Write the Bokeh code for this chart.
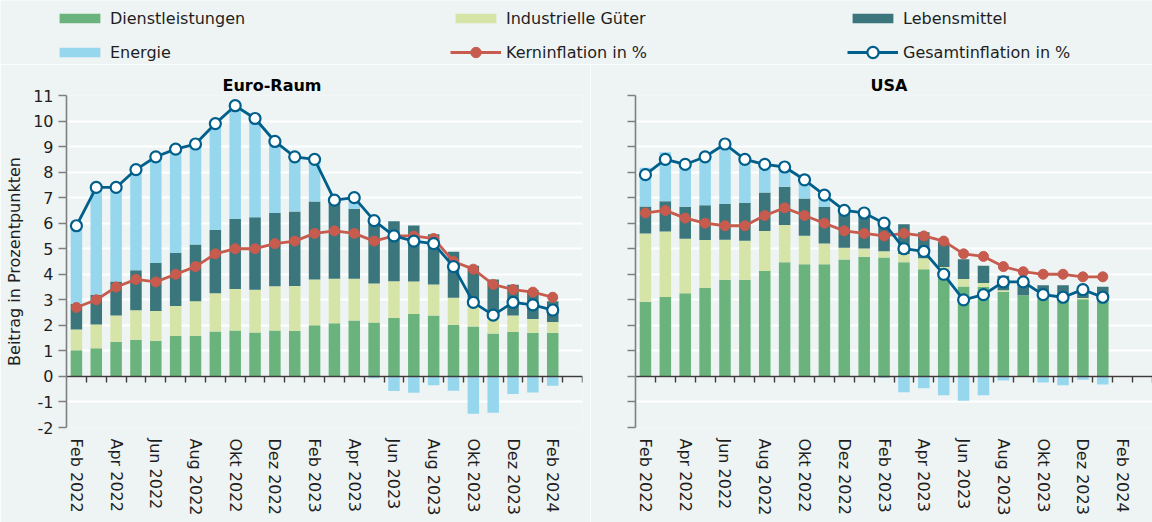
from bokeh.plotting import figure
from bokeh.models import (Range1d, FixedTicker, LinearAxis, Legend, LegendItem,
                          CustomJSTickFormatter, Title)
from bokeh.layouts import column, row
from bokeh.embed import file_html
from bokeh.resources import INLINE

# ---------------- data ----------------
months = ["Feb 2022", "Mär 2022", "Apr 2022", "Mai 2022", "Jun 2022", "Jul 2022",
          "Aug 2022", "Sep 2022", "Okt 2022", "Nov 2022", "Dez 2022", "Jan 2023",
          "Feb 2023", "Mär 2023", "Apr 2023", "Mai 2023", "Jun 2023", "Jul 2023",
          "Aug 2023", "Sep 2023", "Okt 2023", "Nov 2023", "Dez 2023", "Jan 2024",
          "Feb 2024"]

# Euro-Raum (Feb 2022 - Feb 2024)
ea_dienst = [1.02, 1.10, 1.36, 1.44, 1.40, 1.58, 1.59, 1.76, 1.80, 1.72, 1.80, 1.78,
             2.00, 2.08, 2.19, 2.11, 2.30, 2.44, 2.39, 2.02, 1.95, 1.68, 1.74, 1.71, 1.70]
ea_indust = [0.82, 0.93, 1.03, 1.15, 1.16, 1.18, 1.35, 1.50, 1.62, 1.67, 1.73, 1.76,
             1.80, 1.74, 1.63, 1.53, 1.43, 1.28, 1.21, 1.06, 0.82, 0.60, 0.65, 0.54, 0.43]
ea_lebens = [1.01, 1.17, 1.33, 1.57, 1.88, 2.07, 2.23, 2.47, 2.74, 2.84, 2.87, 2.92,
             3.05, 3.03, 2.75, 2.40, 2.35, 2.19, 1.97, 1.80, 1.56, 1.52, 1.20, 1.13, 0.81]
ea_energie = [3.00, 4.22, 3.73, 3.82, 4.16, 3.96, 3.90, 4.10, 4.39, 3.76, 2.75, 2.14,
              1.61, 0.05, 0.30, -0.07, -0.57, -0.64, -0.35, -0.56, -1.46, -1.42, -0.69,
              -0.63, -0.37]
ea_kern = [2.7, 3.0, 3.5, 3.8, 3.7, 4.0, 4.3, 4.8, 5.0, 5.0, 5.2, 5.3, 5.6, 5.7, 5.6,
           5.3, 5.5, 5.5, 5.4, 4.5, 4.2, 3.6, 3.4, 3.3, 3.1]
ea_gesamt = [5.9, 7.4, 7.4, 8.1, 8.6, 8.9, 9.1, 9.9, 10.6, 10.1, 9.2, 8.6, 8.5, 6.9,
             7.0, 6.1, 5.5, 5.3, 5.2, 4.3, 2.9, 2.4, 2.9, 2.8, 2.6]

# USA (Feb 2022 - Jan 2024)
us_dienst = [2.92, 3.11, 3.26, 3.47, 3.79, 3.79, 4.13, 4.47, 4.39, 4.39, 4.58, 4.69,
             4.66, 4.47, 4.20, 3.94, 3.52, 3.50, 3.31, 3.18, 3.14, 3.18, 3.02, 3.13]
us_indust = [2.68, 2.56, 2.13, 1.87, 1.56, 1.52, 1.56, 1.46, 1.12, 0.81, 0.46, 0.32,
             0.24, 0.32, 0.43, 0.34, 0.29, 0.16, 0.06, 0.00, 0.00, 0.00, 0.05, 0.00]
us_lebens = [1.05, 1.19, 1.25, 1.36, 1.41, 1.48, 1.51, 1.50, 1.46, 1.43, 1.44, 1.43,
             1.16, 1.17, 1.02, 0.98, 0.78, 0.67, 0.57, 0.62, 0.43, 0.39, 0.33, 0.38]
us_energie = [1.52, 1.92, 1.64, 1.96, 2.28, 1.74, 1.08, 0.72, 0.80, 0.37, 0.00, 0.00,
              -0.06, -0.62, -0.46, -0.74, -0.95, -0.74, -0.16, 0.00, -0.24, -0.35,
              -0.13, -0.32]
us_kern = [6.4, 6.5, 6.2, 6.0, 5.9, 5.9, 6.3, 6.6, 6.3, 6.0, 5.7, 5.6, 5.5, 5.6, 5.5,
           5.3, 4.8, 4.7, 4.3, 4.1, 4.0, 4.0, 3.9, 3.9]
us_gesamt = [7.9, 8.5, 8.3, 8.6, 9.1, 8.5, 8.3, 8.2, 7.7, 7.1, 6.5, 6.4, 6.0, 5.0, 4.9,
             4.0, 3.0, 3.2, 3.7, 3.7, 3.2, 3.1, 3.4, 3.1]

series_names = ["Dienstleistungen", "Industrielle Güter", "Lebensmittel", "Energie",
                "Kerninflation in %", "Gesamtinflation in %"]

# ---------------- styles ----------------
FONT = "DejaVu Sans"
BG = "#EEF4F4"
C_DIENST = "#6BB37C"
C_INDUST = "#D6E4A7"
C_LEBENS = "#3A767B"
C_ENERGIE = "#97D7EE"
C_KERN = "#C65B4E"
C_GESAMT = "#005F8B"
TXT = "#1E1E1E"
BAR_W = 0.58
LEG_H = 64
ROW_H = 522 - LEG_H


def stack(dienst, indust, lebens, energie):
    d_top, i_bot, i_top, l_bot, l_top, e_bot, e_top = [], [], [], [], [], [], []
    for d, i, l, e in zip(dienst, indust, lebens, energie):
        s1 = d
        s2 = s1 + i
        s3 = s2 + l
        d_top.append(s1)
        i_bot.append(s1)
        i_top.append(s2)
        l_bot.append(s2)
        l_top.append(s3)
        if e >= 0:
            e_bot.append(s3)
            e_top.append(s3 + e)
        else:
            e_bot.append(0)
            e_top.append(e)
    return d_top, i_bot, i_top, l_bot, l_top, e_bot, e_top


def make_chart(title, title_offset, dienst, indust, lebens, energie, kern, gesamt,
               width, border_left, border_right, border_top, border_bottom, labels):
    n_slots = len(months) + 1
    p = figure(width=width, height=ROW_H,
               x_range=Range1d(-0.5, n_slots - 0.5), y_range=Range1d(-2, 11),
               output_backend="svg", toolbar_location=None,
               min_border_left=border_left, min_border_right=border_right,
               min_border_top=border_top, min_border_bottom=border_bottom,
               background_fill_color=BG, border_fill_color=BG, outline_line_color=None,
               title=Title(text=title, align="left", offset=title_offset,
                           text_font=FONT, text_font_style="bold",
                           text_font_size="16px", text_color="#000000", standoff=2))

    x = list(range(len(dienst)))
    d_top, i_bot, i_top, l_bot, l_top, e_bot, e_top = stack(dienst, indust, lebens, energie)
    p.vbar(x=x, bottom=0, top=d_top, width=BAR_W, fill_color=C_DIENST, line_color=None)
    p.vbar(x=x, bottom=i_bot, top=i_top, width=BAR_W, fill_color=C_INDUST, line_color=None)
    p.vbar(x=x, bottom=l_bot, top=l_top, width=BAR_W, fill_color=C_LEBENS, line_color=None)
    p.vbar(x=x, bottom=e_bot, top=e_top, width=BAR_W, fill_color=C_ENERGIE, line_color=None)

    p.line(x=x, y=kern, line_color=C_KERN, line_width=2.8)
    p.scatter(x=x, y=kern, size=10, marker="circle", fill_color=C_KERN, line_color=C_KERN)
    p.line(x=x, y=gesamt, line_color=C_GESAMT, line_width=2.8)
    p.scatter(x=x, y=gesamt, size=11, marker="circle", fill_color="white",
              line_color=C_GESAMT, line_width=2.2)

    # grid
    p.xgrid.visible = False
    p.ygrid.ticker = FixedTicker(ticks=list(range(-2, 12)))
    p.ygrid.grid_line_color = "white"
    p.ygrid.grid_line_width = 2.2

    # y axis
    ya = p.yaxis[0]
    ya.ticker = FixedTicker(ticks=list(range(-2, 12)))
    ya.axis_line_color = "#7F7F7F"
    ya.axis_line_width = 1.6
    ya.major_tick_line_color = "#7F7F7F"
    ya.major_tick_line_width = 1.6
    ya.major_tick_out = 8
    ya.major_tick_in = 0
    ya.minor_tick_line_color = None
    if labels:
        ya.major_label_overrides = {v: str(v) for v in range(-2, 12)}
        ya.major_label_text_font = FONT
        ya.major_label_text_font_size = "16px"
        ya.major_label_text_color = TXT
        ya.major_label_standoff = 5
        ya.axis_label = "Beitrag in Prozentpunkten"
        ya.axis_label_text_font = FONT
        ya.axis_label_text_font_size = "16px"
        ya.axis_label_text_font_style = "normal"
        ya.axis_label_text_color = TXT
        ya.axis_label_standoff = 6
    else:
        ya.formatter = CustomJSTickFormatter(code="return ''")
        ya.major_label_text_font_size = "0px"
        ya.major_label_standoff = 0

    # x axis with month labels at the bottom
    xa = p.xaxis[0]
    label_ticks = list(range(0, len(months), 2))
    xa.ticker = FixedTicker(ticks=label_ticks)
    xa.major_label_overrides = {i: months[i] for i in label_ticks}
    xa.major_label_orientation = "vertical"
    xa.major_label_text_font = FONT
    xa.major_label_text_font_size = "16px"
    xa.major_label_text_color = TXT
    xa.major_label_standoff = 11
    xa.axis_line_color = None
    xa.major_tick_line_color = None
    xa.minor_tick_line_color = None
    xa.major_tick_out = 0
    xa.major_tick_in = 0

    # zero line with ticks between the months
    za = LinearAxis(fixed_location=0,
                    ticker=FixedTicker(ticks=[k + 0.5 for k in range(n_slots)]),
                    formatter=CustomJSTickFormatter(code="return ''"))
    za.axis_line_color = "#3C3C3C"
    za.axis_line_width = 1.6
    za.major_tick_line_color = "#3C3C3C"
    za.major_tick_line_width = 1.4
    za.major_tick_out = 6
    za.major_tick_in = 0
    za.minor_tick_line_color = None
    za.major_label_text_font_size = "0px"
    za.major_label_standoff = 0
    p.add_layout(za, "below")
    return p


top_gap = LEG_H - 62
left = make_chart("Euro-Raum", 156, ea_dienst, ea_indust, ea_lebens, ea_energie,
                  ea_kern, ea_gesamt, width=590, border_left=66, border_right=8,
                  border_top=33 - top_gap, border_bottom=95, labels=True)
right = make_chart("USA", 235, us_dienst, us_indust, us_lebens, us_energie,
                   us_kern, us_gesamt, width=562, border_left=45, border_right=0,
                   border_top=23 - top_gap, border_bottom=94, labels=False)

# ---------------- legend strip ----------------
lg = figure(width=1152, height=LEG_H, x_range=Range1d(0, 1), y_range=Range1d(0, 1),
            output_backend="svg", toolbar_location=None, min_border=0,
            background_fill_color=BG, border_fill_color=BG, outline_line_color=None)
lg.axis.visible = False
lg.grid.visible = False
# legend-only renderers, kept outside the visible range of this strip
r_d = lg.vbar(x=[-5], top=[-5], width=0.1, fill_color=C_DIENST, line_color=None)
r_i = lg.vbar(x=[-5], top=[-5], width=0.1, fill_color=C_INDUST, line_color=None)
r_l = lg.vbar(x=[-5], top=[-5], width=0.1, fill_color=C_LEBENS, line_color=None)
r_e = lg.vbar(x=[-5], top=[-5], width=0.1, fill_color=C_ENERGIE, line_color=None)
r_k1 = lg.line(x=[-5, -4], y=[-5, -5], line_color=C_KERN, line_width=3)
r_k2 = lg.scatter(x=[-5], y=[-5], size=10, marker="circle", fill_color=C_KERN,
                  line_color=C_KERN)
r_g1 = lg.line(x=[-5, -4], y=[-5, -5], line_color=C_GESAMT, line_width=3)
r_g2 = lg.scatter(x=[-5], y=[-5], size=11, marker="circle", fill_color="white",
                  line_color=C_GESAMT, line_width=2.2)

# (x of swatch, centre of row from top, glyph height, label, renderers)
row1_c, row2_c = 18, 52
entries = [
    (54, row1_c, 12, series_names[0], [r_d]),
    (450, row1_c, 12, series_names[1], [r_i]),
    (847, row1_c, 12, series_names[2], [r_l]),
    (54, row2_c, 12, series_names[3], [r_e]),
    (450, row2_c, 26, series_names[4], [r_k1, r_k2]),
    (847, row2_c, 28, series_names[5], [r_g1, r_g2]),
]
for xloc, cy, gh, text, rs in entries:
    item_h = max(gh, 20)
    yloc = LEG_H - cy - item_h / 2
    leg = Legend(items=[LegendItem(label=text, renderers=rs)],
                 location=(xloc, yloc), orientation="vertical",
                 border_line_color=None, background_fill_alpha=0,
                 padding=0, margin=0, spacing=0,
                 glyph_width=51, glyph_height=gh, label_height=20, label_standoff=5,
                 label_text_font=FONT, label_text_font_size="16px",
                 label_text_color=TXT)
    lg.add_layout(leg, "center")

layout = column(lg, row(left, right))

html = file_html(layout, INLINE)
html = html.replace("<body>", '<body style="background-color:#EEF4F4;">', 1)
open("out.html", "w").write(html)
